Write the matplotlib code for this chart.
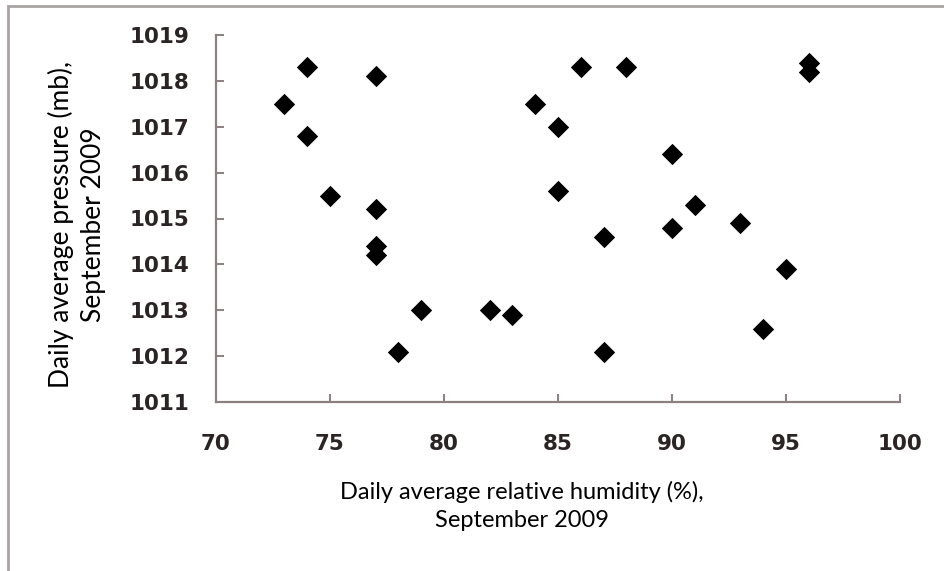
import matplotlib
matplotlib.use("Agg")
import matplotlib.pyplot as plt
from matplotlib.patches import Rectangle

humidity = [73, 74, 74, 75, 77, 77, 77, 77, 78, 79, 82, 83, 84, 85, 85, 86,
            87, 87, 88, 90, 90, 91, 93, 94, 95, 96, 96]
pressure = [1017.5, 1018.3, 1016.8, 1015.5, 1018.1, 1015.2, 1014.4, 1014.2,
            1012.1, 1013.0, 1013.0, 1012.9, 1017.5, 1017.0, 1015.6, 1018.3,
            1014.6, 1012.1, 1018.3, 1016.4, 1014.8, 1015.3, 1014.9, 1012.6,
            1013.9, 1018.4, 1018.2]
x_ticks = [70, 75, 80, 85, 90, 95, 100]
y_ticks = [1011, 1012, 1013, 1014, 1015, 1016, 1017, 1018, 1019]
x_label = "Daily average relative humidity (%),\nSeptember 2009"
y_label = "Daily average pressure (mb),\nSeptember 2009"

W, H = 944, 571
fig = plt.figure(figsize=(W / 100, H / 100), dpi=100)
fig.patch.set_facecolor("white")

# outer frame
fig.add_artist(Rectangle((8 / W, -0.05), 1.2, (H - 6) / H + 0.05,
                         transform=fig.transFigure, fill=False,
                         edgecolor="#a8a4a4", linewidth=2.0))

left, right = 216 / W, 900 / W
bottom, top = 1 - 402 / H, 1 - 35 / H
ax = fig.add_axes([left, bottom, right - left, top - bottom])
ax.set_facecolor("none")

ax.scatter(humidity, pressure, marker="D", s=118, color="black",
           linewidths=0, zorder=3, clip_on=False)

ax.set_xlim(70, 100)
ax.set_ylim(1011, 1019)
ax.set_xticks(x_ticks)
ax.set_yticks(y_ticks)

axis_col = "#8a8080"
for s in ["top", "right"]:
    ax.spines[s].set_visible(False)
for s in ["left", "bottom"]:
    ax.spines[s].set_color(axis_col)
    ax.spines[s].set_linewidth(1.6)

ax.tick_params(axis="both", direction="in", length=6, width=1.4,
               color=axis_col, labelcolor="#2b2424")
ax.tick_params(axis="y", pad=19)
ax.tick_params(axis="x", pad=23)
for lab in ax.get_xticklabels() + ax.get_yticklabels():
    lab.set_fontfamily("DejaVu Sans")
    lab.set_fontweight("bold")
    lab.set_fontsize(15.5)

fig.text(522 / W, 1 - 506 / H, x_label, ha="center", va="center",
         fontsize=17, family="Lato", linespacing=1.38, color="black")
fig.text(77 / W, 1 - 225 / H, y_label, ha="center", va="center",
         rotation=90, fontsize=19, family="Lato", linespacing=1.35,
         color="black")

fig.savefig("out.png", dpi=100, facecolor="white")
